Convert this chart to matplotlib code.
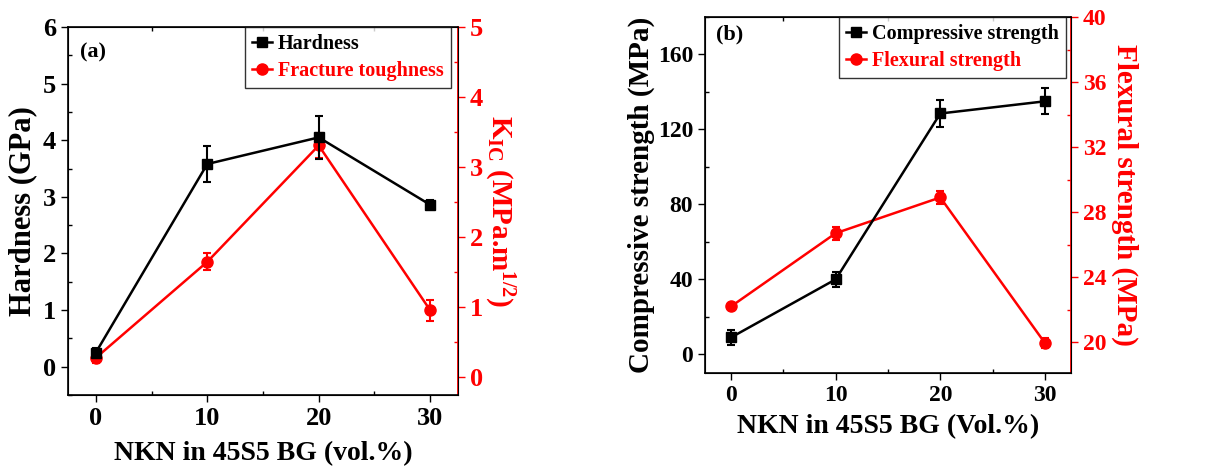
import numpy as np
import matplotlib.pyplot as plt
from matplotlib.lines import Line2D
from matplotlib.ticker import MultipleLocator

plt.rcParams['font.family'] = ['Liberation Serif', 'DejaVu Serif']
plt.rcParams['font.weight'] = 'bold'
plt.rcParams['mathtext.default'] = 'regular'

# NKN content (vol.%)
nkn = [0, 10, 20, 30]

# (a) hardness and fracture toughness
hardness = [0.25, 3.58, 4.05, 2.86]
hardness_err = [0.08, 0.32, 0.38, 0.08]
kic = [0.28, 1.65, 3.31, 0.96]
kic_err = [0.08, 0.12, 0.18, 0.15]

# (b) compressive and flexural strength
comp = [9.0, 40.0, 128.5, 135.0]
comp_err = [4.0, 4.0, 7.0, 7.0]
flex = [22.2, 26.7, 28.9, 19.95]
flex_err = [0.1, 0.4, 0.4, 0.3]

W, H = 1229, 470
fig = plt.figure(figsize=(W / 100, H / 100), dpi=100)


def make_panel(rect, x, y1, e1, y2, e2, lab1, lab2, xlab, ylab1, ylab2,
               ylim1, ylim2, ystep1, ystep2, tag, tag_y, fs_tick,
               fs_xlab, fs_ylab, ypad, fs_ylab2, pad2, xpad, fs_leg, leg_x):
    ax = fig.add_axes(rect)
    ax2 = ax.twinx()
    ax.errorbar(x, y1, yerr=e1, color='black', marker='s', markersize=7,
                linewidth=1.8, capsize=3, elinewidth=1.5, capthick=1.5)
    ax2.errorbar(x, y2, yerr=e2, color='red', marker='o', markersize=8,
                 linewidth=1.8, capsize=3, elinewidth=1.5, capthick=1.5)
    ax.set_xlim(-2.5, 32.5)
    ax.set_ylim(*ylim1)
    ax2.set_ylim(*ylim2)
    ax.set_xticks(nkn)
    ax.xaxis.set_minor_locator(MultipleLocator(5))
    ax.yaxis.set_major_locator(MultipleLocator(ystep1))
    ax.yaxis.set_minor_locator(MultipleLocator(ystep1 / 2))
    ax2.yaxis.set_major_locator(MultipleLocator(ystep2))
    ax2.yaxis.set_minor_locator(MultipleLocator(ystep2 / 2))
    ax.tick_params(axis='x', which='major', direction='out', length=5, width=1,
                   labelsize=fs_tick)
    ax.tick_params(axis='x', which='minor', direction='in', length=3, width=1, top=True)
    ax.tick_params(axis='y', which='major', direction='out', length=5, width=1,
                   labelsize=fs_tick)
    ax.tick_params(axis='y', which='minor', direction='in', length=3, width=1)
    ax2.tick_params(axis='y', which='major', direction='out', length=5, width=1,
                    colors='red', labelsize=fs_tick)
    ax2.tick_params(axis='y', which='minor', direction='in', length=3, width=1, colors='red')
    ax2.spines['right'].set_color('red')
    ax2.spines['right'].set_linewidth(1.3)
    for s in ['left', 'bottom', 'top']:
        ax.spines[s].set_linewidth(1.2)
    ax.set_xlabel(xlab, fontsize=fs_xlab, fontweight='bold', labelpad=xpad)
    ax.set_ylabel(ylab1, fontsize=fs_ylab, fontweight='bold', labelpad=ypad)
    ax2.set_ylabel(ylab2, fontsize=fs_ylab2, fontweight='bold', color='red',
                   rotation=270, labelpad=pad2)
    ax.text(0.03, tag_y, tag, transform=ax.transAxes, fontsize=16,
            fontweight='bold', va='center', ha='left')
    h1 = Line2D([], [], color='black', marker='s', markersize=7, linewidth=1.8)
    h2 = Line2D([], [], color='red', marker='o', markersize=8, linewidth=1.8)
    leg = ax.legend([h1, h2], [lab1, lab2], loc='upper right',
                    bbox_to_anchor=(leg_x, 1.0), fontsize=fs_leg,
                    frameon=True, fancybox=False, edgecolor='black',
                    handlelength=1.0, handletextpad=0.3, borderpad=0.35,
                    labelspacing=0.35, borderaxespad=0.0)
    leg.get_frame().set_linewidth(1.0)
    for t, c in zip(leg.get_texts(), ['black', 'red']):
        t.set_color(c)
    ax.set_zorder(ax2.get_zorder() + 1)
    ax.patch.set_visible(False)
    return ax, ax2


make_panel([68 / W, 75 / H, 390 / W, 368 / H], nkn,
           hardness, hardness_err, kic, kic_err,
           'Hardness', 'Fracture toughness',
           'NKN in 45S5 BG (vol.%)', 'Hardness (GPa)',
           r'K$_{IC}$ (MPa.m$^{1/2}$)',
           (-0.5, 6), (-0.25, 5), 1, 1, '(a)', 0.93, 19,
           20, 22, 4, 21, 24, 8, 14.5, 0.982)

make_panel([705 / W, 97 / H, 366 / W, 356 / H], nkn,
           comp, comp_err, flex, flex_err,
           'Compressive strength', 'Flexural strength',
           'NKN in 45S5 BG (Vol.%)', 'Compressive strength (MPa)',
           'Flexural strength (MPa)',
           (-10, 180), (18.1, 40), 40, 4, '(b)', 0.95, 17,
           20, 21, 2, 21, 23, 6, 14.5, 0.986)

fig.savefig('out.png', dpi=100)
